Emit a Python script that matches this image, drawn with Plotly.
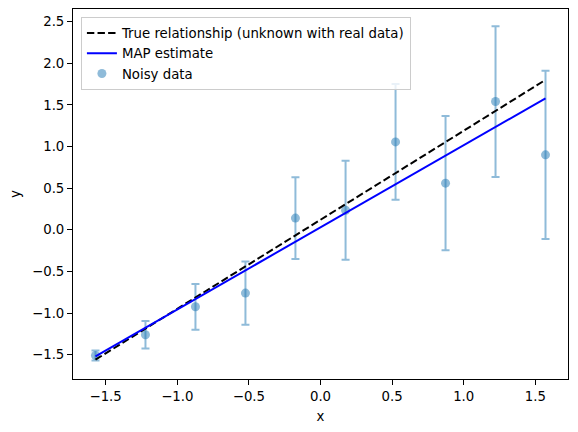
import plotly.graph_objects as go

x_data = [-1.571, -1.222, -0.873, -0.524, -0.175, 0.175, 0.524, 0.873, 1.222, 1.571]
y_data = [-1.51, -1.26, -0.925, -0.76, 0.14, 0.235, 1.055, 0.56, 1.54, 0.90]
y_err = [0.06, 0.165, 0.275, 0.38, 0.49, 0.595, 0.695, 0.805, 0.905, 1.01]

# straight lines, given by their end points
line_x = [-1.571, 1.571]
true_y = [-1.56, 1.80]
map_y = [-1.52, 1.578]

FONT = "DejaVu Sans"
TAB_BLUE = "rgba(31,119,180,0.5)"

fig = go.Figure()

fig.add_trace(go.Scatter(
    x=x_data, y=y_data, mode="markers", name="Noisy data",
    marker=dict(color=TAB_BLUE, size=9, line=dict(width=0)),
    error_y=dict(type="data", array=y_err, visible=True,
                 color=TAB_BLUE, thickness=2, width=4),
    legendrank=3,
))
fig.add_trace(go.Scatter(
    x=line_x, y=true_y, mode="lines",
    name="True relationship (unknown with real data)",
    line=dict(color="black", width=2, dash="7.4px,3.2px"),
    legendrank=1,
))
fig.add_trace(go.Scatter(
    x=line_x, y=map_y, mode="lines", name="MAP estimate",
    line=dict(color="blue", width=2),
    legendrank=2,
))

axis_style = dict(
    showgrid=False, zeroline=False, showline=True, linecolor="black",
    linewidth=1, mirror=True, ticks="outside", ticklen=5, tickwidth=1,
    tickcolor="black", tickformat=".1f", automargin=False,
    tickfont=dict(family=FONT, size=13.3, color="black"),
)

fig.update_xaxes(axis_style, range=[-1.728, 1.728], tick0=-1.5, dtick=0.5,
                 title=dict(text="x", font=dict(family=FONT, size=13.3, color="black"),
                            standoff=8))
fig.update_yaxes(axis_style, range=[-1.792, 2.651], tick0=-1.5, dtick=0.5,
                 title=dict(text="y", font=dict(family=FONT, size=13.3, color="black"),
                            standoff=8))

fig.update_layout(
    width=578, height=432,
    margin=dict(l=73, r=10, t=9, b=53),
    paper_bgcolor="white", plot_bgcolor="white",
    font=dict(family=FONT, size=13.3, color="black"),
    showlegend=True,
    legend=dict(
        x=0.016, y=0.979, xanchor="left", yanchor="top",
        bgcolor="rgba(255,255,255,0.8)", bordercolor="#cccccc", borderwidth=1,
        font=dict(family=FONT, size=13.3, color="black"),
        itemwidth=30, tracegroupgap=0,
    ),
)

# drop the browser's default body margin so the figure sits at the page corner
fig.write_html("out.html", config={"displayModeBar": False},
               post_script="document.body.style.margin = '0';")
